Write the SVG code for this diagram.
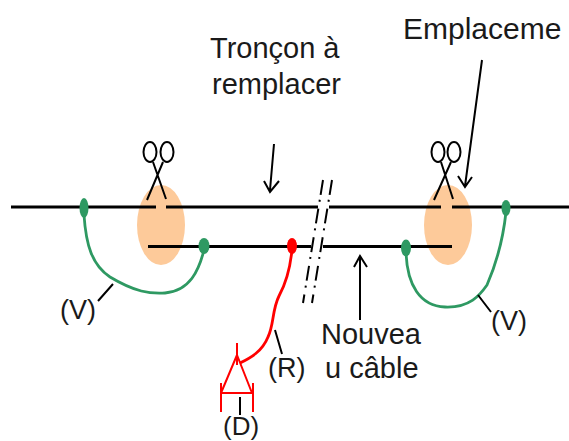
<svg xmlns="http://www.w3.org/2000/svg" width="569" height="441" viewBox="0 0 569 441">
<style>
text{font-family:"Liberation Sans",Arial,sans-serif;font-size:29px;fill:#1a1a1a}
text.s{font-size:27px}
.k{fill:none;stroke:#000;stroke-width:2}
.c{fill:none;stroke:#000;stroke-width:3.200}
.g{fill:none;stroke:#2e9962;stroke-width:2.800}
.r{fill:none;stroke:#f00;stroke-width:2.800}
.t{fill:none;stroke:#f00;stroke-width:2}
.d{fill:none;stroke:#000;stroke-width:2;stroke-dasharray:15 5 2 7}
.o{fill:#fdca9a}
.gd{fill:#2e9962}
</style>
<rect width="569" height="441" fill="#fff"/>
<g id="zone-left"><ellipse class="o" cx="161" cy="225" rx="24" ry="40"/></g>
<g id="zone-right"><ellipse class="o" cx="448" cy="225" rx="24" ry="40"/></g>
<g id="connectors">
<path class="c" d="M11 207H156M166 207H318M329 207H441M452 207H569"/>
<path class="c" d="M148 246.500H311M323 246.500H452"/>
<path class="d" d="M323 180L303 303"/>
<path class="d" d="M332 180L312 303"/>
<path class="g" d="M84 215C86 245 92 265 110 277C135 292 150 294 165 293C190 291 199 270 204 250"/>
<path class="g" d="M406 252C407 285 420 306 445 307C470 308 480 295 487 285C497 262 503 240 506 212"/>
<path class="r" d="M292 250C290 270 285 285 279 296C272 310 274 325 268 337C262 352 250 358 240 363"/>
<path class="k" d="M274 144L270 190M264 181L270 192 279 181"/>
<path class="k" d="M482 60L465 186M458 176L465 187 472 177"/>
<path class="k" d="M360 320V257M354 267L360 256 367 267"/>
<path class="k" d="M113 284L98 301M478 295L491 312M275 330L282 354M240 397V415"/>
</g>
<g id="scissors-left">
<ellipse class="k" cx="150" cy="152" rx="6.500" ry="10"/><ellipse class="k" cx="167" cy="152" rx="6.500" ry="10"/>
<path class="k" d="M153 162L166 199M163 162L147 200"/>
</g>
<g id="scissors-right">
<ellipse class="k" cx="438" cy="152" rx="6.500" ry="10"/><ellipse class="k" cx="454" cy="152" rx="6.500" ry="10"/>
<path class="k" d="M441 162L453 199M451 162L434 200"/>
</g>
<g id="splice-1"><ellipse class="gd" cx="84" cy="208" rx="4.500" ry="10"/></g>
<g id="splice-2"><ellipse class="gd" cx="204" cy="246" rx="5.500" ry="8"/></g>
<g id="splice-3"><ellipse class="gd" cx="406" cy="248" rx="5" ry="8.500"/></g>
<g id="splice-4"><ellipse class="gd" cx="506" cy="208" rx="4.500" ry="8"/></g>
<g id="splice-red"><ellipse cx="292" cy="246" rx="5" ry="8" fill="#f00"/></g>
<g id="diode">
<path class="t" d="M237 343V365M237 355L221 393M237 355L252 393M221 393H253M221 383V412M253 383V412"/>
</g>
<g id="labels">
<text x="210" y="58">Tronçon à</text>
<text x="212" y="94">remplacer</text>
<text x="403" y="39" style="font-size:30px">Emplaceme</text>
<text x="321" y="344">Nouvea</text>
<text x="325" y="378">u câble</text>
<text class="s" x="60" y="319">(V)</text>
<text class="s" x="491" y="330">(V)</text>
<text class="s" x="268" y="377">(R)</text>
<text class="s" x="223" y="435" style="font-size:26px">(D)</text>
</g>
</svg>
